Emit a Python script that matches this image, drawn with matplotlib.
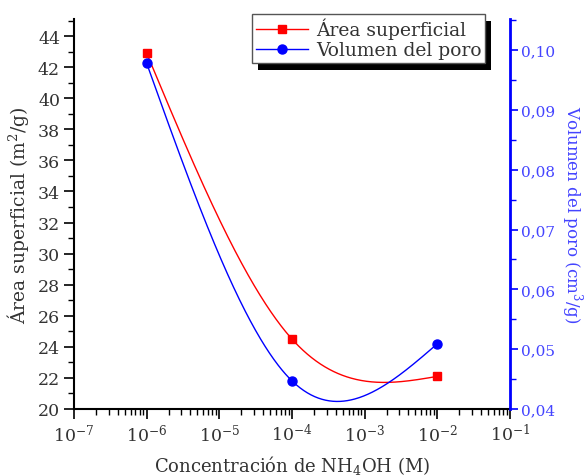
import numpy as np
import matplotlib
matplotlib.use("Agg")
import matplotlib.pyplot as plt
from matplotlib.patches import Rectangle
from matplotlib.ticker import FuncFormatter, MultipleLocator, LogLocator, NullFormatter
from matplotlib.transforms import IdentityTransform

# datos
conc = [1e-6, 1e-4, 1e-2]
area = [42.9, 24.5, 22.1]
volumen = [0.0978, 0.0447, 0.0509]


def spline_natural(x, y, n=200):
    # spline cubico natural (como la conexion "Spline" de Origin)
    x = np.asarray(x, float)
    y = np.asarray(y, float)
    k = len(x)
    h = np.diff(x)
    A = np.zeros((k, k))
    b = np.zeros(k)
    A[0, 0] = A[-1, -1] = 1
    for i in range(1, k - 1):
        A[i, i - 1] = h[i - 1]
        A[i, i] = 2 * (h[i - 1] + h[i])
        A[i, i + 1] = h[i]
        b[i] = 6 * ((y[i + 1] - y[i]) / h[i] - (y[i] - y[i - 1]) / h[i - 1])
    M = np.linalg.solve(A, b)
    xs, ys = [], []
    for i in range(k - 1):
        t = np.linspace(x[i], x[i + 1], n)
        s = (M[i] * (x[i + 1] - t) ** 3 / (6 * h[i]) + M[i + 1] * (t - x[i]) ** 3 / (6 * h[i])
             + (y[i] / h[i] - M[i] * h[i] / 6) * (x[i + 1] - t)
             + (y[i + 1] / h[i] - M[i + 1] * h[i] / 6) * (t - x[i]))
        xs.append(t)
        ys.append(s)
    return np.concatenate(xs), np.concatenate(ys)


plt.rcParams['font.family'] = 'DejaVu Serif'
plt.rcParams['mathtext.fontset'] = 'dejavuserif'

fig = plt.figure(figsize=(5.84, 4.77), dpi=100)
fig.patch.set_facecolor('white')
ax = fig.add_axes([74 / 584, 1 - 410 / 477, 436 / 584, 390 / 477])
ax2 = ax.twinx()
ax.patch.set_visible(False)
ax2.patch.set_visible(False)

lx = np.log10(conc)
sx, sy = spline_natural(lx, area)
ax.plot(10 ** sx, sy, color='red', lw=1)
ax.plot(conc, area, 's', color='red', ms=6)
vx, vy = spline_natural(lx, volumen)
ax2.plot(10 ** vx, vy, color='blue', lw=1)
ax2.plot(conc, volumen, 'o', color='blue', ms=6.5)

ax.set_xscale('log')
ax.set_xlim(1e-7, 1e-1)
ax.set_ylim(20, 45.1)
ax2.set_ylim(0.04, 0.1052)

ax.xaxis.set_major_locator(LogLocator(base=10, numticks=10))
ax.xaxis.set_minor_locator(LogLocator(base=10, subs=np.arange(2, 10), numticks=20))
ax.xaxis.set_minor_formatter(NullFormatter())
ax.yaxis.set_major_locator(MultipleLocator(2))
ax.yaxis.set_minor_locator(MultipleLocator(1))
ax2.yaxis.set_major_locator(MultipleLocator(0.01))
ax2.yaxis.set_minor_locator(MultipleLocator(0.005))
ax2.yaxis.set_major_formatter(FuncFormatter(lambda v, p: f"{v:.2f}".replace('.', ',')))

gris = '#333333'
ax.tick_params(which='major', length=7, width=1.2, labelsize=12.5, colors='black', labelcolor=gris, pad=3)
ax.tick_params(which='minor', length=4, width=1.0, colors='black')
ax2.tick_params(which='major', length=6, width=1.2, labelsize=11, colors='blue', labelcolor='#4444ff', pad=2)
ax2.tick_params(which='minor', length=4, width=1.0, colors='blue')

for a in (ax, ax2):
    a.spines['top'].set_visible(False)
ax.spines['left'].set_linewidth(1.5)
ax.spines['bottom'].set_linewidth(1.5)
ax.spines['right'].set_visible(False)
ax2.spines['left'].set_visible(False)
ax2.spines['bottom'].set_visible(False)
ax2.spines['right'].set_color('blue')
ax2.spines['right'].set_linewidth(2)

ax.set_xlabel('Concentración de NH$_4$OH (M)', fontsize=13, color=gris, labelpad=6)
ax.set_ylabel('Área superficial (m$^2$/g)', fontsize=13.5, color=gris, labelpad=5)
ax2.set_ylabel('Volumen del poro (cm$^3$/g)', fontsize=12, color='#4444ff',
               rotation=270, va='bottom', labelpad=3)

h1 = plt.Line2D([], [], color='red', lw=1, marker='s', ms=6)
h2 = plt.Line2D([], [], color='blue', lw=1, marker='o', ms=6.5)
leg = ax2.legend([h1, h2], ['Área superficial', 'Volumen del poro'],
                 loc='upper left', bbox_to_anchor=(252 / 584, 1 - 15 / 477),
                 bbox_transform=fig.transFigure, fontsize=13.5, frameon=True, framealpha=1,
                 fancybox=False, borderpad=0.2, labelspacing=0.1, handlelength=2.8,
                 handletextpad=0.4, borderaxespad=0)
leg.get_frame().set_edgecolor('#555555')
leg.get_frame().set_linewidth(1)
for t in leg.get_texts():
    t.set_color(gris)

# sombra negra del recuadro de leyenda
fig.canvas.draw()
bb = leg.get_window_extent()
fig.add_artist(Rectangle((bb.x0 + 6, bb.y0 - 7), bb.width, bb.height, transform=IdentityTransform(),
                         facecolor='black', edgecolor='none', zorder=-1))

fig.savefig('out.png', dpi=100)
